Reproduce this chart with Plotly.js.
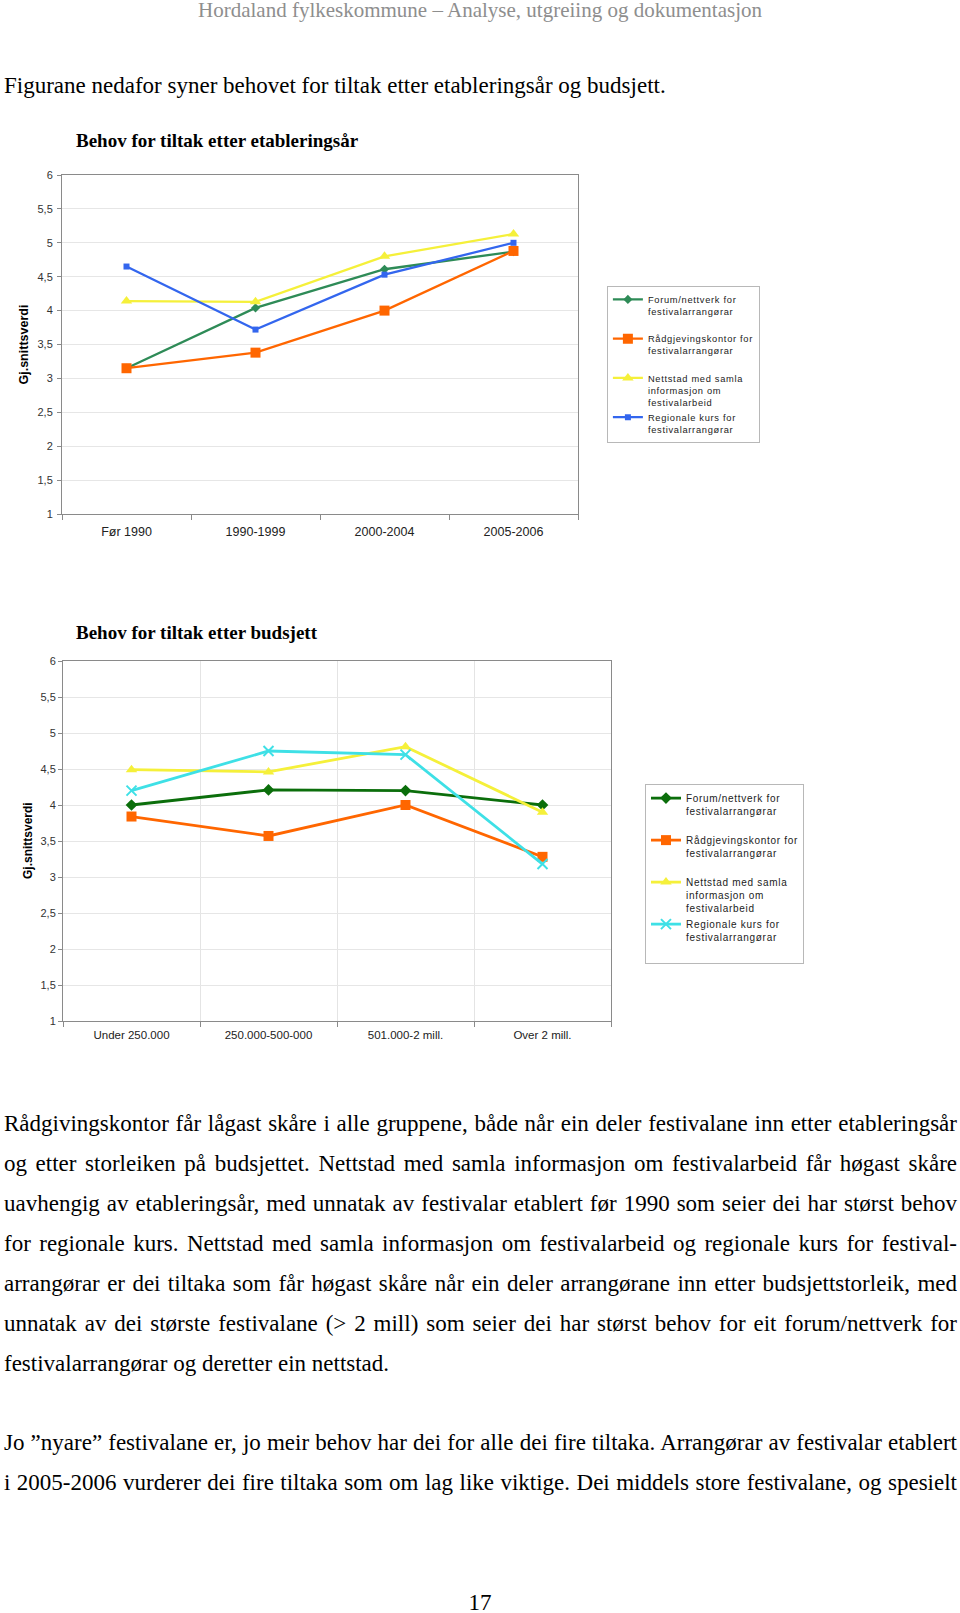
<!DOCTYPE html>
<html><head><meta charset="utf-8">
<script src="https://cdn.plot.ly/plotly-3.0.1.min.js"></script>
<style>
html,body{margin:0;padding:0;background:#fff;}
body{width:960px;height:1613px;position:relative;overflow:hidden;font-family:"Liberation Serif","Times New Roman",serif;color:#000;}
.ln{position:absolute;left:4px;width:953px;font-size:23px;line-height:40px;height:40px;}
.j{text-align:justify;text-align-last:justify;}
#hdr{position:absolute;left:0;width:960px;top:-10px;text-align:center;font-size:21px;line-height:40px;color:#8e8e8e;}
#pg{position:absolute;left:0;width:960px;text-align:center;font-size:23px;line-height:40px;}
.chart{position:absolute;left:0;width:960px;}
.legendtext{letter-spacing:0.7px;}
</style></head><body>
<div id="hdr"></div>
<div id="text"></div>
<div id="c1" class="chart" style="top:115px;height:440px;"></div>
<div id="c2" class="chart" style="top:595px;height:460px;"></div>
<div id="pg" style="top:1583px;">17</div>
<script>
// ---------- data ----------
const headerText = 'Hordaland fylkeskommune \u2013 Analyse, utgreiing og dokumentasjon';
const introLine = 'Figurane nedafor syner behovet for tiltak etter etableringsår og budsjett.';
const para1 = [
  'Rådgivingskontor får lågast skåre i alle gruppene, både når ein deler festivalane inn etter etableringsår',
  'og etter storleiken på budsjettet. Nettstad med samla informasjon om festivalarbeid får høgast skåre',
  'uavhengig av etableringsår, med unnatak av festivalar etablert før 1990 som seier dei har størst behov',
  'for regionale kurs. Nettstad med samla informasjon om festivalarbeid og regionale kurs for festival-',
  'arrangørar er dei tiltaka som får høgast skåre når ein deler arrangørane inn etter budsjettstorleik, med',
  'unnatak av dei største festivalane (> 2 mill) som seier dei har størst behov for eit forum/nettverk for',
  'festivalarrangørar og deretter ein nettstad.'
];
const para2 = [
  'Jo \u201dnyare\u201d festivalane er, jo meir behov har dei for alle dei fire tiltaka. Arrangørar av festivalar etablert',
  'i 2005-2006 vurderer dei fire tiltaka som om lag like viktige. Dei middels store festivalane, og spesielt'
];

const title1 = 'Behov for tiltak etter etableringsår';
const title2 = 'Behov for tiltak etter budsjett';
const yTitle = 'Gj.snittsverdi';

const seriesNames = [
  'Forum/nettverk for<br>festivalarrangørar',
  'Rådgjevingskontor for<br>festivalarrangørar',
  'Nettstad med samla<br>informasjon om<br>festivalarbeid',
  'Regionale kurs for<br>festivalarrangørar'
];

const categories1 = ['Før 1990', '1990-1999', '2000-2004', '2005-2006'];
const forum1    = [3.15, 4.04, 4.61, 4.87];
const radgj1    = [3.15, 3.38, 4.00, 4.88];
const nettstad1 = [4.14, 4.13, 4.80, 5.13];
const kurs1     = [4.65, 3.72, 4.53, 5.00];

const categories2 = ['Under 250.000', '250.000-500-000', '501.000-2 mill.', 'Over 2 mill.'];
const forum2    = [4.00, 4.21, 4.20, 4.00];
const radgj2    = [3.84, 3.57, 4.00, 3.28];
const nettstad2 = [4.49, 4.46, 4.81, 3.90];
const kurs2     = [4.20, 4.75, 4.70, 3.18];

// ---------- text ----------
document.getElementById('hdr').textContent = headerText;
const textDiv = document.getElementById('text');
function addLine(txt, top, justify) {
  const d = document.createElement('div');
  d.className = 'ln' + (justify ? ' j' : '');
  d.style.top = top + 'px';
  d.textContent = txt;
  textDiv.appendChild(d);
}
addLine(introLine, 66, false);
para1.forEach((t, i) => addLine(t, 1104 + i * 40, i < para1.length - 1));
para2.forEach((t, i) => addLine(t, 1423 + i * 40, true));

// ---------- charts ----------
const pad = '<br>\u00a0';
function trace(x, y, name, color, symbol, size, lw, extra) {
  return Object.assign({
    type: 'scatter', mode: 'lines+markers', x: x, y: y, name: name,
    line: {color: color, width: lw},
    marker: {symbol: symbol, size: size, color: color},
    cliponaxis: false
  }, extra || {});
}

function axisX(showgrid, fsize, standoff) {
  return {
    type: 'category', range: [-0.5, 3.5], autorange: false,
    tickson: 'boundaries', ticks: 'outside', ticklen: 5,
    tickcolor: '#8a8a8a', showgrid: showgrid, gridcolor: '#e4e4e4',
    showline: true, linecolor: '#8a8a8a', mirror: true, zeroline: false,
    tickfont: {family: 'Liberation Sans, Arial, sans-serif', size: fsize, color: '#222'},
    ticklabelstandoff: standoff, fixedrange: true
  };
}
function axisY(standoff) {
  return {
    range: [1, 6], autorange: false, tick0: 1, dtick: 0.5, ticks: 'outside', ticklen: 4,
    tickcolor: '#8a8a8a', gridcolor: '#e6e6e6', showgrid: true,
    showline: true, linecolor: '#8a8a8a', mirror: true, zeroline: false,
    tickfont: {family: 'Liberation Sans, Arial, sans-serif', size: 11, color: '#333'},
    ticklabelstandoff: standoff, fixedrange: true
  };
}

const data1 = [
  trace(categories1, forum1, seriesNames[0] + pad, '#2e8b57', 'diamond', 7, 2.3),
  trace(categories1, radgj1, seriesNames[1] + pad, '#ff6600', 'square', 10, 2.3),
  trace(categories1, nettstad1, seriesNames[2], '#f5f03a', 'triangle-up', 10, 2.3),
  trace(categories1, kurs1, seriesNames[3], '#3366ee', 'square', 6, 2.3)
];
const layout1 = {
  width: 960, height: 440,
  margin: {l: 62, r: 382, t: 60, b: 41},
  paper_bgcolor: '#fff', plot_bgcolor: '#fff',
  separators: ', ',
  title: {text: '<b>' + title1 + '</b>', x: 76 / 960, xanchor: 'left', xref: 'container',
          y: 1 - 25 / 440, yanchor: 'middle', yref: 'container',
          font: {family: 'Liberation Serif, Times New Roman, serif', size: 19, color: '#000'}},
  xaxis: axisX(false, 12.5, 6), yaxis: axisY(2),
  showlegend: true,
  legend: {x: 1.056, y: 0.673, xanchor: 'left', yanchor: 'top', valign: 'top',
           bgcolor: '#fff', bordercolor: '#b8b8b8', borderwidth: 1, tracegroupgap: 0,
           font: {family: 'Liberation Sans, Arial, sans-serif', size: 9.3, color: '#222'}},
  annotations: [{text: '<b>' + yTitle + '</b>', xref: 'paper', yref: 'paper',
                 x: (23 - 62) / 516, y: 0.5, textangle: -90, showarrow: false,
                 xanchor: 'center', yanchor: 'middle',
                 font: {family: 'Liberation Sans, Arial, sans-serif', size: 12.5, color: '#000'}}]
};

const data2 = [
  trace(categories2, forum2, seriesNames[0] + pad, '#0b6e0b', 'diamond', 9, 2.8),
  trace(categories2, radgj2, seriesNames[1] + pad, '#ff6600', 'square', 10, 2.8),
  trace(categories2, nettstad2, seriesNames[2], '#f5f03a', 'triangle-up', 10, 2.8),
  trace(categories2, kurs2, seriesNames[3] + pad, '#3ee0e6', 'x-thin-open', 10, 2.8,
        {marker: {symbol: 'x-thin-open', size: 10, color: '#3ee0e6', line: {color: '#3ee0e6', width: 2}}})
];
const layout2 = {
  width: 960, height: 460,
  margin: {l: 63, r: 349, t: 66, b: 34},
  paper_bgcolor: '#fff', plot_bgcolor: '#fff',
  separators: ', ',
  title: {text: '<b>' + title2 + '</b>', x: 76 / 960, xanchor: 'left', xref: 'container',
          y: 1 - 37 / 460, yanchor: 'middle', yref: 'container',
          font: {family: 'Liberation Serif, Times New Roman, serif', size: 19, color: '#000'}},
  xaxis: axisX(true, 11.5, 3), yaxis: axisY(0),
  showlegend: true,
  legend: {x: 1.062, y: 0.658, xanchor: 'left', yanchor: 'top', valign: 'top',
           bgcolor: '#fff', bordercolor: '#b8b8b8', borderwidth: 1, tracegroupgap: 0,
           font: {family: 'Liberation Sans, Arial, sans-serif', size: 10, color: '#222'}},
  annotations: [{text: '<b>' + yTitle + '</b>', xref: 'paper', yref: 'paper',
                 x: (28 - 63) / 548, y: 0.5, textangle: -90, showarrow: false,
                 xanchor: 'center', yanchor: 'middle',
                 font: {family: 'Liberation Sans, Arial, sans-serif', size: 12, color: '#000'}}]
};

const cfg = {displayModeBar: false, staticPlot: true};
Plotly.newPlot('c1', data1, layout1, cfg);
Plotly.newPlot('c2', data2, layout2, cfg);
</script>
</body></html>
